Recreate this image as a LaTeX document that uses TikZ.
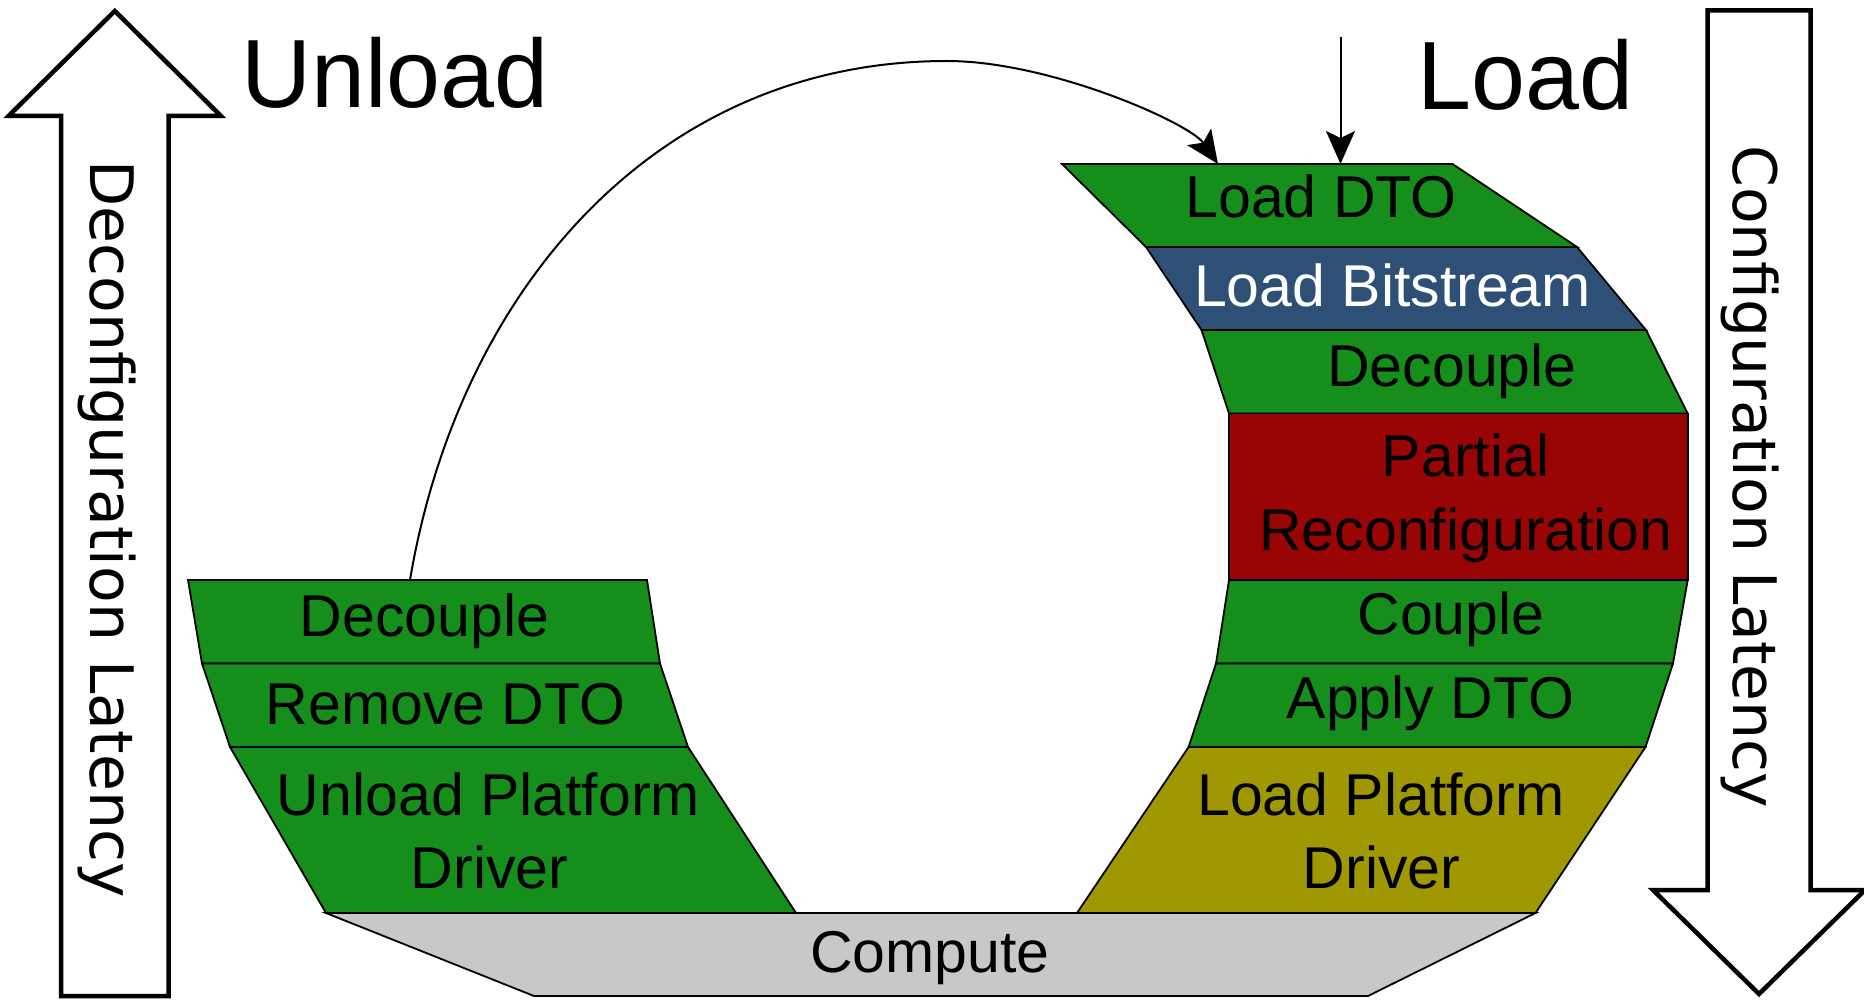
\documentclass[tikz,border=0pt]{standalone}
\usepackage{fontspec}
\setmainfont{Liberation Sans}
\newfontfamily\latfont{DejaVu Sans}
\usetikzlibrary{arrows.meta}
\definecolor{stepgreen}{RGB}{21,142,28}
\definecolor{bitblue}{RGB}{46,80,118}
\definecolor{prred}{RGB}{153,4,4}
\definecolor{drvolive}{RGB}{160,152,0}
\definecolor{compgray}{RGB}{200,200,200}
\begin{document}
\begin{tikzpicture}[x=1pt,y=-1pt,
  layer/.style={draw=black, line width=1.8pt, line join=miter},
  lbl/.style={inner sep=0pt, anchor=base, font=\fontsize{59}{70}\selectfont},
  big/.style={inner sep=0pt, anchor=base west, font=\fontsize{97}{110}\selectfont},
  vlbl/.style={inner sep=0pt, anchor=base west, rotate=-90, font=\latfont\fontsize{60}{70}\selectfont},
  blockarrow/.style={draw=black, fill=white, line width=4.5pt, line join=miter},
  flow/.style={draw=black, line width=2pt, -{Stealth[length=33pt,width=29pt,inset=7pt]}}]
\useasboundingbox (0,0) rectangle (1864,1000);

% latency arrows
\path[blockarrow] (61,996) -- (61,116) -- (8.5,116) -- (114.8,11) -- (221,116)
  -- (168.5,116) -- (168.5,996) -- cycle;
\path[blockarrow] (1707.5,10.5) -- (1810.5,10.5) -- (1810.5,890) -- (1865,890)
  -- (1759,994) -- (1653,890) -- (1707.5,890) -- cycle;
\node[vlbl] (declat) at (90,160) {Deconfiguration Latency};
\node[vlbl] (conflat) at (1733,145) {Configuration Latency};

% headings
\node[big] (unload) at (241,108) {Unload};
\node[big] (load) at (1417,110) {Load};

% compute
\path[layer, fill=compgray] (326,913) -- (1535.5,913) -- (1368,996) -- (534,996) -- cycle;
\node[lbl] (compute) at (930,972) {Compute};

% unload stack
\path[layer, fill=stepgreen] (188,580) -- (647,580) -- (660,663.5) -- (202,663.5) -- cycle;
\path[layer, fill=stepgreen] (202,663.5) -- (660,663.5) -- (688,747) -- (230,747) -- cycle;
\path[layer, fill=stepgreen] (230,747) -- (688,747) -- (796,913) -- (326,913) -- cycle;
\node[lbl] (udecouple) at (424.6,636) {Decouple};
\node[lbl] (uremove) at (445.7,724) {Remove DTO};
\node[lbl] (udrvA) at (488.5,815) {Unload Platform};
\node[lbl] (udrvB) at (489.6,888) {Driver};

% load stack
\path[layer, fill=stepgreen] (1062,164) -- (1452.5,164) -- (1577,247) -- (1146,247) -- cycle;
\path[layer, fill=bitblue] (1146,247) -- (1577,247) -- (1646,330) -- (1201.5,330) -- cycle;
\path[layer, fill=stepgreen] (1201.5,330) -- (1646,330) -- (1687.7,413.5) -- (1229,413.5) -- cycle;
\path[layer, fill=prred] (1229,413.5) -- (1687.7,413.5) -- (1687.7,580) -- (1229,580) -- cycle;
\path[layer, fill=stepgreen] (1229,580) -- (1687.7,580) -- (1673,663.5) -- (1216,663.5) -- cycle;
\path[layer, fill=stepgreen] (1216,663.5) -- (1673,663.5) -- (1645.5,747) -- (1188.6,747) -- cycle;
\path[layer, fill=drvolive] (1188.6,747) -- (1645.5,747) -- (1535.5,913) -- (1077,913) -- cycle;
\node[lbl] (ldto) at (1321,218) {Load DTO};
\node[lbl, text=white] (lbit) at (1392.5,306.7) {Load Bitstream};
\node[lbl] (ldecouple) at (1452,386) {Decouple};
\node[lbl] (lprA) at (1465.6,476.5) {Partial};
\node[lbl] (lprB) at (1466,550) {Reconfiguration};
\node[lbl] (lcouple) at (1451,634) {Couple};
\node[lbl] (lapply) at (1430.5,718.8) {Apply DTO};
\node[lbl] (ldrvA) at (1381,815) {Load Platform};
\node[lbl] (ldrvB) at (1381.5,888) {Driver};

% connectors
\coordinate (unloadTop) at (410,580);
\coordinate (arcTop) at (947,61);
\coordinate (dtoIn) at (1218,164);
\coordinate (loadSrc) at (1340.5,37);
\coordinate (loadIn) at (1340.5,164);
\draw[flow] (unloadTop) .. controls (458,295) and (652,61) .. (arcTop)
  .. controls (1050,61) and (1189.5,123) .. (dtoIn);
\draw[flow] (loadSrc) -- (loadIn);
\end{tikzpicture}
\end{document}
